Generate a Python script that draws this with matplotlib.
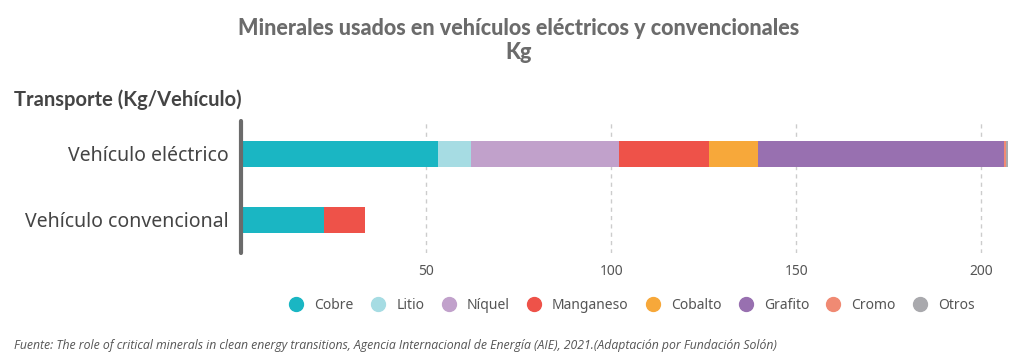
import matplotlib
matplotlib.use("Agg")
import matplotlib.pyplot as plt
from matplotlib.lines import Line2D

# Data (kg per vehicle)
vehicles = ["Vehículo eléctrico", "Vehículo convencional"]
minerals = ["Cobre", "Litio", "Níquel", "Manganeso", "Cobalto", "Grafito", "Cromo", "Otros"]
electric = [53.2, 8.9, 39.9, 24.5, 13.3, 66.3, 0.5, 0.7]
conventional = [22.3, 0.0, 0.0, 11.2, 0.0, 0.0, 0.0, 0.0]
colors = ["#1AB6C3", "#A6DCE3", "#C1A1CB", "#EE5249", "#F7A83A", "#9870B0", "#F08A73", "#A9A9AD"]
xticks = [50, 100, 150, 200]

plt.rcParams["font.family"] = ["Noto Sans", "DejaVu Sans"]
bold_font = ["Lato", "DejaVu Sans"]

fig = plt.figure(figsize=(10.24, 3.64), dpi=100)
ax = fig.add_axes([0.2354, 0.305, 0.754, 0.3626])

ypos = [0, 1]
left_e, left_c = 0, 0
for name, ev, cv, col in zip(minerals, electric, conventional, colors):
    ax.barh(ypos, [ev, cv], left=[left_e, left_c], height=0.39, color=col, edgecolor="none")
    left_e += ev
    left_c += cv

ax.set_xlim(0, 208.6)
ax.set_ylim(1.5, -0.5)
ax.set_yticks(ypos)
ax.set_yticklabels(vehicles, fontsize=14, color="#444444")
ax.set_xticks(xticks)
ax.set_xticklabels([str(t) for t in xticks], fontsize=10, color="#555555")
ax.tick_params(axis="both", length=0)
ax.tick_params(axis="y", pad=9)
ax.tick_params(axis="x", pad=8)
for s in ["top", "right", "bottom"]:
    ax.spines[s].set_visible(False)
ax.spines["left"].set_color("#6b6b6b")
ax.spines["left"].set_linewidth(3)
ax.spines["left"].set_capstyle("round")
ax.xaxis.grid(True, linestyle=(0, (3, 3)), color="#cccccc", linewidth=1)
ax.set_axisbelow(True)

fig.text(0.506, 0.922, "Minerales usados en vehículos eléctricos y convencionales",
         ha="center", va="center", fontsize=15.5, fontweight="black", color="#6b6b6b",
         family=bold_font)
fig.text(0.506, 0.855, "Kg", ha="center", va="center", fontsize=15.5, fontweight="black",
         color="#6b6b6b", family=bold_font)
fig.text(0.014, 0.727, "Transporte (Kg/Vehículo)", ha="left", va="center",
         fontsize=14.5, fontweight="bold", color="#444444", family=bold_font)

handles = [Line2D([], [], marker="o", linestyle="none", markersize=10,
                  markerfacecolor=c, markeredgecolor=c) for c in colors]
fig.legend(handles, minerals, loc="center", bbox_to_anchor=(0.614, 0.16), ncol=8,
           frameon=False, fontsize=10, handletextpad=0.3, columnspacing=0.75,
           labelcolor="#555555")

fig.text(0.014, 0.05, "Fuente: The role of critical minerals in clean energy transitions, Agencia Internacional de Energía (AIE), 2021.(Adaptación por Fundación Solón)",
         ha="left", va="center", fontsize=8.8, style="italic", color="#555555",
         family=["Open Sans", "DejaVu Sans"])

fig.savefig("out.png", dpi=100, facecolor="white")
